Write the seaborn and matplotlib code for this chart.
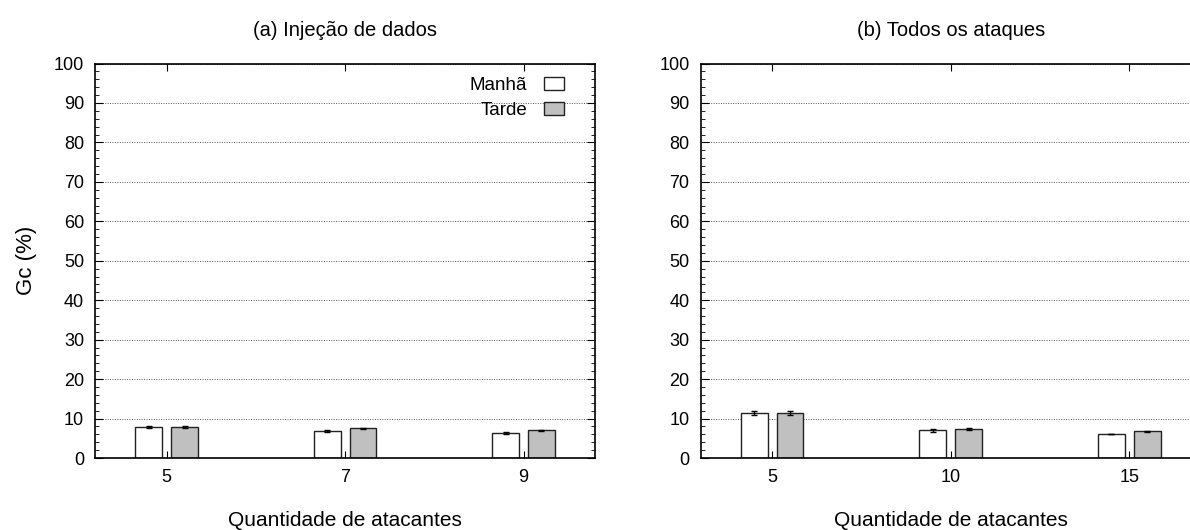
import matplotlib
matplotlib.use("Agg")
import matplotlib.pyplot as plt
import seaborn as sns
import pandas as pd
from matplotlib.ticker import MultipleLocator

sns.set_style("ticks")
plt.rcParams['font.family'] = ['Liberation Sans', 'DejaVu Sans']
plt.rcParams.update({'text.color': 'black', 'axes.labelcolor': 'black',
                     'xtick.color': 'black', 'ytick.color': 'black'})

periods = ['Manhã', 'Tarde']
colors = ['white', '#c0c0c0']

# (a) Injeção de dados
attackers_a = ['5', '7', '9']
manha_a = [7.9, 6.8, 6.3]
tarde_a = [7.9, 7.5, 7.0]
err_manha_a = [0.3, 0.2, 0.2]
err_tarde_a = [0.3, 0.2, 0.2]

# (b) Todos os ataques
attackers_b = ['5', '10', '15']
manha_b = [11.4, 7.0, 6.1]
tarde_b = [11.3, 7.4, 6.8]
err_manha_b = [0.5, 0.3, 0.1]
err_tarde_b = [0.5, 0.2, 0.1]


def make_df(cats, manha, tarde, err_m, err_t):
    rows = []
    for c, m, t, em, et in zip(cats, manha, tarde, err_m, err_t):
        rows.append({'q': c, 'periodo': 'Manhã', 'gc': m, 'err': em})
        rows.append({'q': c, 'periodo': 'Tarde', 'gc': t, 'err': et})
    return pd.DataFrame(rows)


def draw_panel(ax, df, cats, title, legend=False):
    sns.barplot(
        data=df, x='q', y='gc', hue='periodo',
        order=cats, hue_order=periods,
        palette=colors, width=0.4, gap=0.25,
        edgecolor='#222222', linewidth=1,
        errorbar=None, legend=False, ax=ax,
    )
    # error bars on top of each bar
    for container, per in zip(ax.containers, periods):
        sub = df[df['periodo'] == per].set_index('q').loc[cats]
        xs = [p.get_x() + p.get_width() / 2 for p in container]
        ax.errorbar(xs, sub['gc'].values, yerr=sub['err'].values, fmt='none',
                    ecolor='black', elinewidth=1, capsize=2.5, capthick=1, zorder=5)

    ax.set_xlim(-0.4, 2.4)
    ax.set_ylim(0, 100)
    ax.yaxis.set_major_locator(MultipleLocator(10))
    ax.yaxis.set_minor_locator(MultipleLocator(2))
    ax.grid(axis='y', which='major', linestyle=(0, (1, 1.5)), color='#555555', linewidth=0.7)
    ax.set_axisbelow(True)
    ax.tick_params(axis='both', which='both', direction='in', top=True, right=True,
                   labelsize=13, pad=8)
    ax.tick_params(axis='y', which='major', length=6)
    ax.tick_params(axis='y', which='minor', length=3)
    ax.tick_params(axis='x', which='major', length=5)
    for s in ax.spines.values():
        s.set_linewidth(1.2)
        s.set_color('black')
    ax.set_xlabel('Quantidade de atacantes', fontsize=15, labelpad=18)
    ax.set_ylabel('')
    ax.set_title(title, fontsize=14.5, pad=20)

    if legend:
        handles = [plt.Rectangle((0, 0), 1, 1, facecolor=c, edgecolor='#222222', linewidth=1)
                   for c in colors]
        ax.legend(handles, periods, loc='upper right', frameon=False, markerfirst=False,
                  fontsize=13.5, handlelength=1.1, handleheight=0.75, handletextpad=0.9,
                  labelspacing=0.4, borderaxespad=0.3, bbox_to_anchor=(0.965, 1.0))


fig = plt.figure(figsize=(11.9, 5.3), dpi=100)
ax1 = fig.add_axes([0.0801, 0.1358, 0.4199, 0.7443])
ax2 = fig.add_axes([0.5888, 0.1358, 0.4202, 0.7443])

df_a = make_df(attackers_a, manha_a, tarde_a, err_manha_a, err_tarde_a)
df_b = make_df(attackers_b, manha_b, tarde_b, err_manha_b, err_tarde_b)

draw_panel(ax1, df_a, attackers_a, '(a) Injeção de dados', legend=True)
draw_panel(ax2, df_b, attackers_b, '(b) Todos os ataques')
ax1.set_ylabel('Gc (%)', fontsize=16, labelpad=12)

fig.savefig('out.png', dpi=100)
